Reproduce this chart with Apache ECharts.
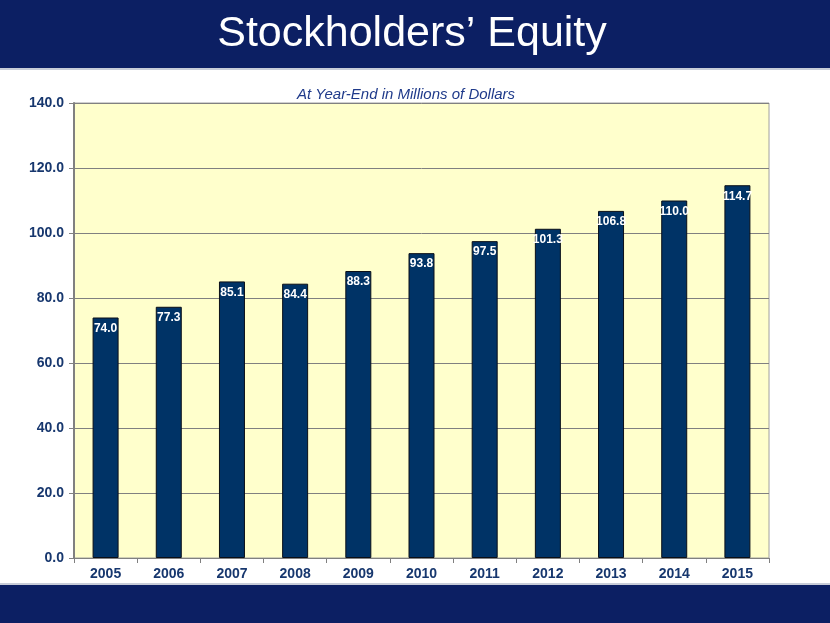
<!DOCTYPE html>
<html>
<head>
<meta charset="utf-8">
<script src="https://cdn.jsdelivr.net/npm/echarts@6/dist/echarts.min.js"></script>
<style>
html,body{margin:0;padding:0;background:#fff;}
#wrap{position:relative;width:830px;height:623px;overflow:hidden;}
#top{position:absolute;left:0;top:0;width:830px;height:68px;background:#0c1f63;border-bottom:2px solid #c8ccd8;}
#bot{position:absolute;left:0;top:583px;width:830px;height:40px;background:#0c1f63;border-top:2px solid #c8ccd8;}
#chart{position:absolute;left:0;top:0;width:830px;height:623px;}
</style>
</head>
<body>
<div id="wrap">
<div id="top"></div>
<div id="bot"></div>
<div id="chart"></div>
</div>
<script>
var categories = ['2005','2006','2007','2008','2009','2010','2011','2012','2013','2014','2015'];
var equity = [74.0, 77.3, 85.1, 84.4, 88.3, 93.8, 97.5, 101.3, 106.8, 110.0, 114.7];
var titleText = 'Stockholders\u2019 Equity';
var subtitleText = 'At Year-End in Millions of Dollars';

var chart = echarts.init(document.getElementById('chart'), null, {renderer:'canvas'});
chart.setOption({
  animation:false,
  title:[
    {text:titleText, left:407, textAlign:'center', top:8,
     textStyle:{color:'#ffffff', fontSize:43, fontWeight:'normal', fontFamily:'Liberation Sans, Arial, sans-serif'}},
    {text:subtitleText, left:401, textAlign:'center', top:82,
     textStyle:{color:'#1f3a8a', fontSize:15, fontStyle:'italic', fontWeight:'normal', fontFamily:'Liberation Sans, Arial, sans-serif'}}
  ],
  grid:{left:74, top:103, width:695, height:455, show:true, backgroundColor:'#ffffcc', borderColor:'#a0a0a0', borderWidth:1},
  xAxis:{
    type:'category', data:categories,
    axisLine:{lineStyle:{color:'#808080', width:1}},
    axisTick:{show:true, alignWithLabel:false, length:5, lineStyle:{color:'#808080'}},
    axisLabel:{color:'#17376e', fontSize:14, fontWeight:'bold', fontFamily:'Liberation Sans, Arial, sans-serif', margin:9}
  },
  yAxis:{
    type:'value', min:0, max:140, interval:20,
    axisLine:{show:true, lineStyle:{color:'#808080', width:2}},
    axisTick:{show:true, length:5, lineStyle:{color:'#808080'}},
    splitLine:{lineStyle:{color:'#808080', width:1}},
    axisLabel:{color:'#17376e', fontSize:14, fontWeight:'bold', fontFamily:'Liberation Sans, Arial, sans-serif', margin:10,
      formatter:function(v){return v.toFixed(1);}}
  },
  series:[{
    type:'bar', data:equity, barWidth:26,
    itemStyle:{color:'#003366', borderColor:'#0a0f18', borderWidth:1},
    label:{show:true, position:'insideTop', distance:5, color:'#ffffff', fontSize:12, fontWeight:'bold',
      fontFamily:'Liberation Sans, Arial, sans-serif',
      formatter:function(p){return p.value.toFixed(1);}}
  }]
});
</script>
</body>
</html>
